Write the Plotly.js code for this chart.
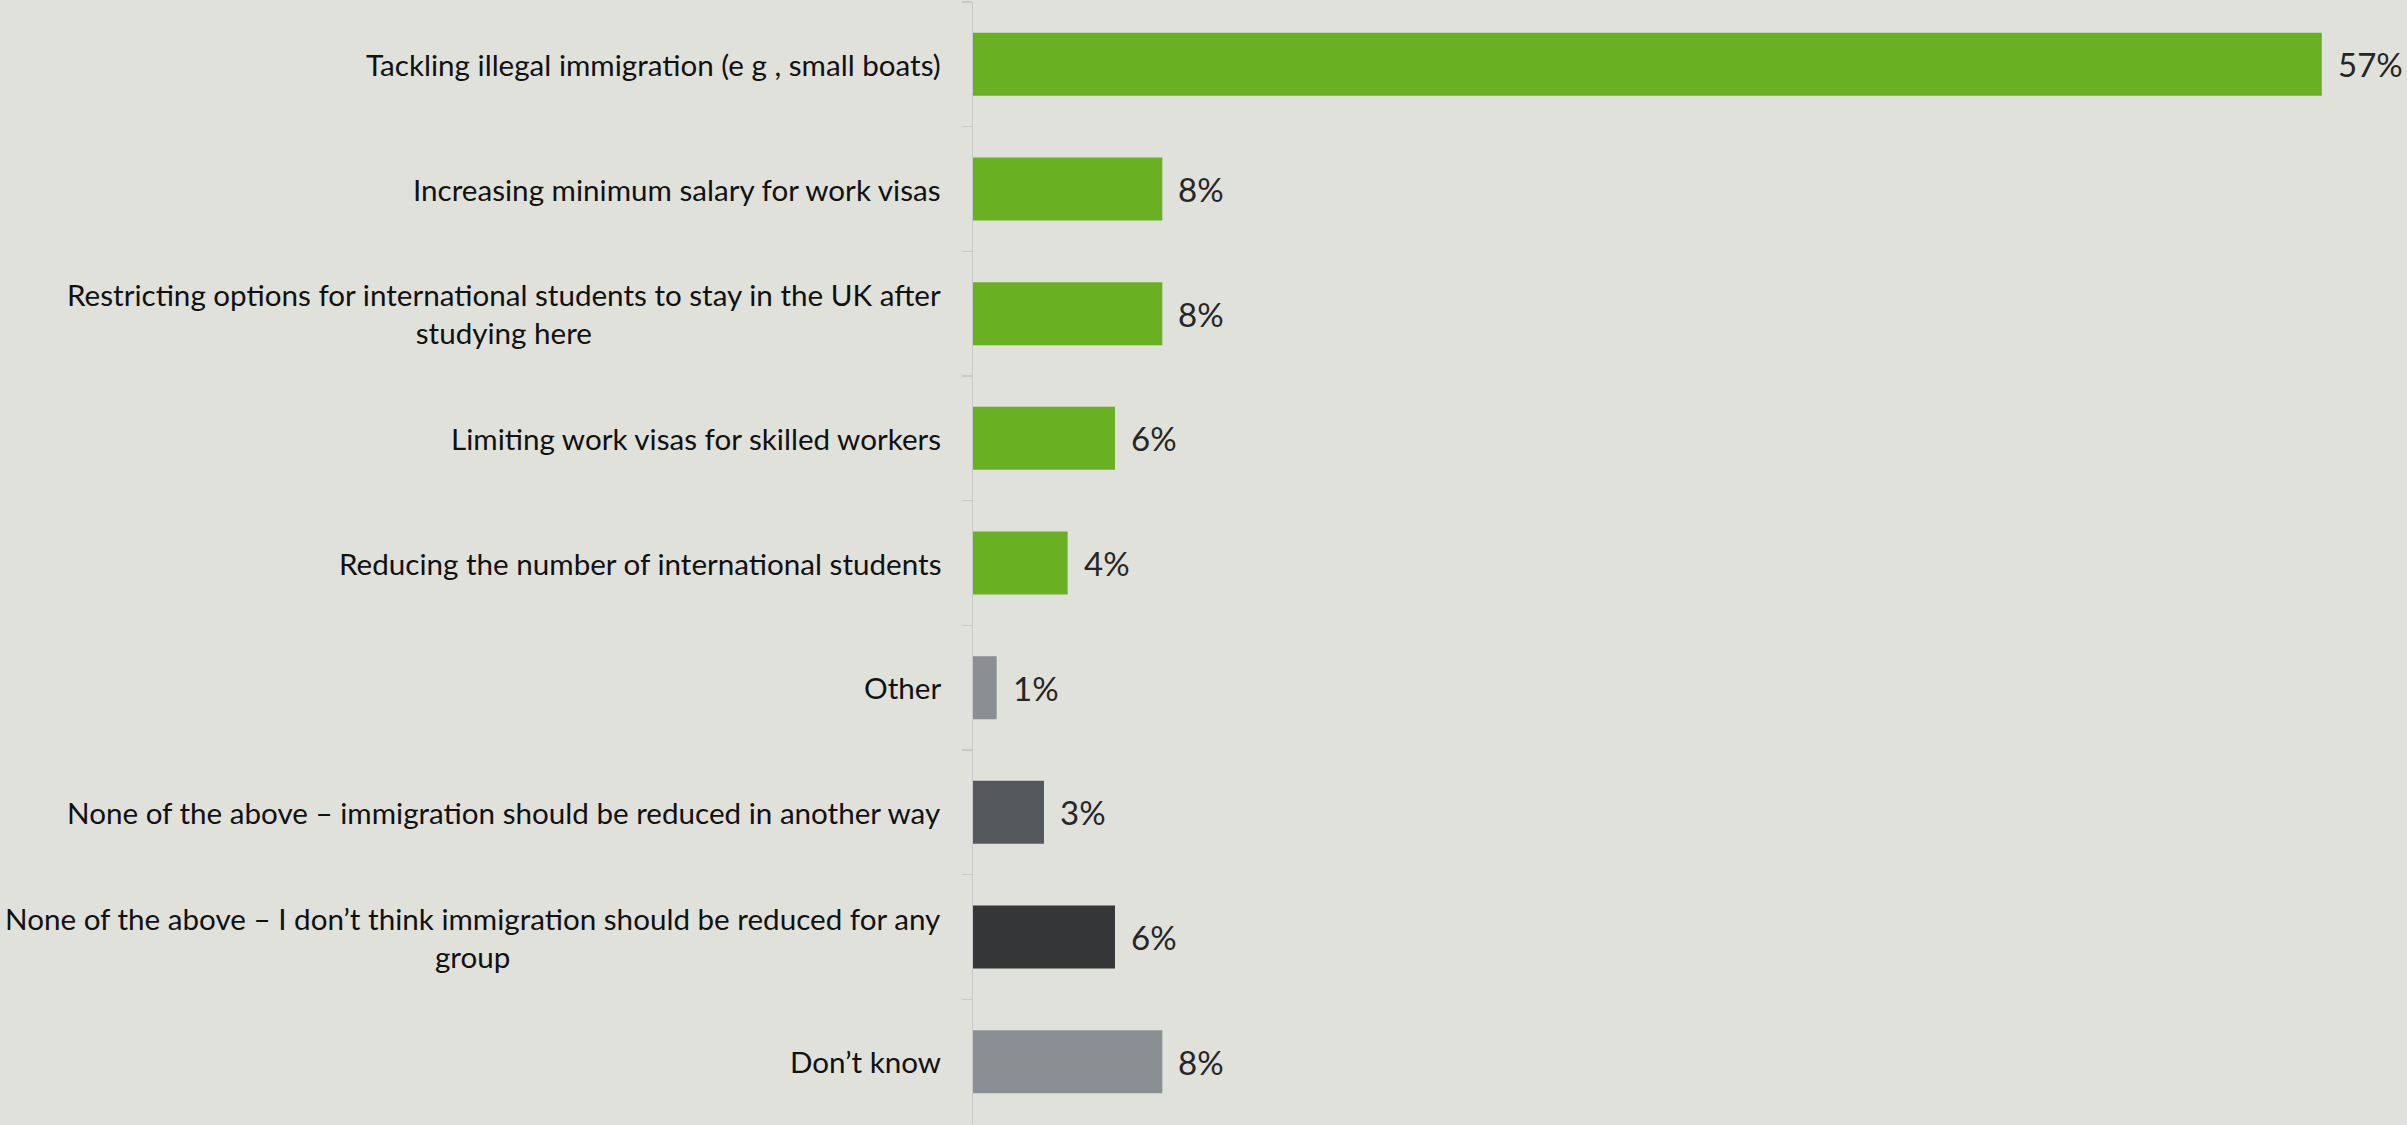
<!DOCTYPE html>
<html>
<head>
<meta charset="utf-8">
<script src="https://cdn.plot.ly/plotly-3.0.1.min.js"></script>
<style>
  html, body { margin: 0; padding: 0; background: #E0E1DA; }
  #chart { width: 2407px; height: 1125px; }
</style>
</head>
<body>
<div id="chart"></div>
<script>
const categories = [
  "Tackling illegal immigration (e g , small boats)",
  "Increasing minimum salary for work visas",
  "Restricting options for international students to stay in the UK after<br>studying here",
  "Limiting work visas for skilled workers",
  "Reducing the number of international students",
  "Other",
  "None of the above – immigration should be reduced in another way",
  "None of the above – I don’t think immigration should be reduced for any<br>group",
  "Don’t know"
];
const values = [57, 8, 8, 6, 4, 1, 3, 6, 8];
const valueLabels = ["57%", "8%", "8%", "6%", "4%", "1%", "3%", "6%", "8%"];

// styling
const GREEN = "#6AB023";
const barColors = [GREEN, GREEN, GREEN, GREEN, GREEN, "#8B8E92", "#55585B", "#353638", "#8B8E92"];
const BG = "#E0E1DA";
const FONT = "Lato, 'Open Sans', sans-serif";

const trace = {
  type: "bar",
  orientation: "h",
  y: categories,
  x: values,
  marker: { color: barColors, line: { width: 0 } },
  hoverinfo: "skip"
};

const annotations = [];
categories.forEach((c, i) => {
  annotations.push({
    xref: "paper", yref: "y", x: 0, y: c,
    text: c, showarrow: false,
    xanchor: "right", yanchor: "middle", align: "center",
    xshift: -30,
    font: { family: FONT, size: 29.6, color: "#111111" }
  });
  annotations.push({
    xref: "x", yref: "y", x: values[i], y: c,
    text: valueLabels[i], showarrow: false,
    xanchor: "left", yanchor: "middle",
    xshift: 14,
    font: { family: FONT, size: 33, color: "#262626" }
  });
});

const layout = {
  width: 2407, height: 1125,
  paper_bgcolor: BG, plot_bgcolor: BG,
  margin: { l: 973, r: 0, t: 2, b: 1, pad: 0 },
  bargap: 0.495,
  showlegend: false,
  xaxis: {
    range: [0, 60.6], visible: false, fixedrange: true
  },
  yaxis: {
    type: "category",
    autorange: "reversed",
    showticklabels: false,
    showline: true, linecolor: "#C9C9C9", linewidth: 1.5,
    ticks: "outside", tickson: "boundaries", ticklen: 10,
    tickcolor: "#C9C9C9", tickwidth: 1.5,
    showgrid: false, zeroline: false
  },
  annotations: annotations
};

Plotly.newPlot("chart", [trace], layout, { staticPlot: true, displayModeBar: false });
</script>
</body>
</html>
